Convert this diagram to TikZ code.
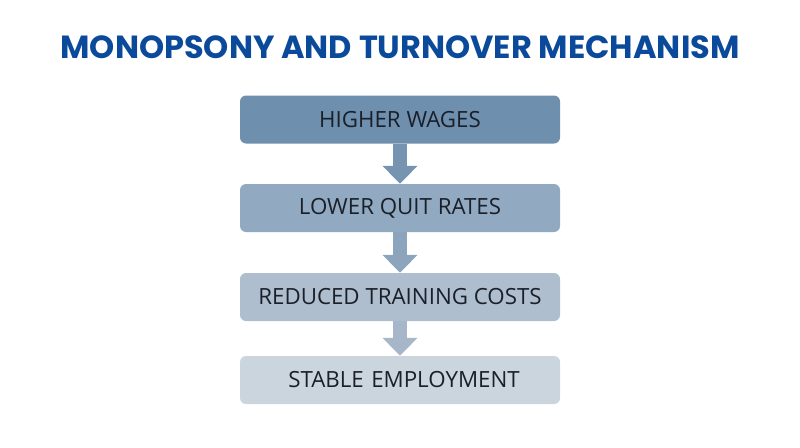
\documentclass[tikz,border=0pt]{standalone}
\usepackage{fontspec}
\setmainfont{Open Sans}
\newfontfamily\titlefont{Poppins}
\usetikzlibrary{arrows.meta,positioning}

\definecolor{titleblue}{HTML}{0B4A9B}
\definecolor{textdark}{HTML}{1A2029}
\definecolor{lvlA}{HTML}{6F8FAE}
\definecolor{lvlB}{HTML}{92AAC1}
\definecolor{lvlC}{HTML}{AEBECE}
\definecolor{lvlD}{HTML}{CBD5DE}
\definecolor{arrA}{HTML}{7694B2}
\definecolor{arrB}{HTML}{8CA4BC}
\definecolor{arrC}{HTML}{A6B7C9}

\begin{document}
\begin{tikzpicture}[
    x=1pt, y=1pt,
    level/.style={rectangle, rounded corners=6pt, minimum width=320pt, minimum height=48pt,
        inner sep=0pt, text=textdark, font=\fontsize{22.3}{27}\selectfont},
    flow/.style={line width=14pt, -{Triangle[length=18pt, width=34pt]}}
]
\useasboundingbox (0,0) rectangle (800,-447);

% Titel
\node[font=\titlefont\bfseries\fontsize{32}{38}\selectfont, text=titleblue] (title) at (400,-47) {MONOPSONY AND TURNOVER MECHANISM};

% Stufen
\node[level,fill=lvlA] (wages) at (400,-119.5) {HIGHER WAGES};
\node[level,fill=lvlB] (quit) at (400,-208) {LOWER QUIT RATES};
\node[level,fill=lvlC] (training) at (400,-297) {REDUCED TRAINING COSTS};
\node[level,fill=lvlD,text width=320pt,align=center] (stable) at (400,-380) {\hspace*{8pt}STABLE EMPLOYMENT};

% Pfeile zwischen den Stufen
\draw[flow,draw=arrA] (wages.south) -- (quit.north);
\draw[flow,draw=arrB] (quit.south) -- (training.north);
\draw[flow,draw=arrC] (training.south) -- (stable.north);

\end{tikzpicture}
\end{document}
